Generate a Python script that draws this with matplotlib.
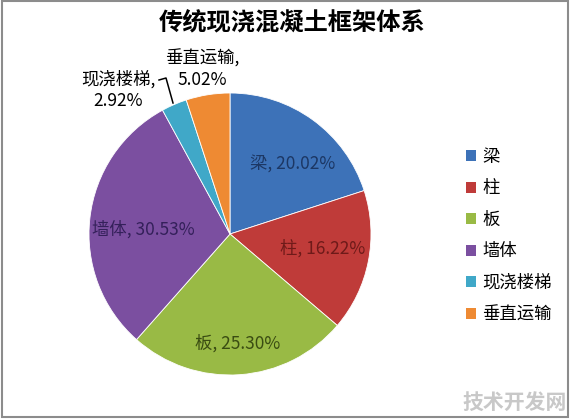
import matplotlib

matplotlib.use("Agg")
import matplotlib.pyplot as plt
from matplotlib.patches import Rectangle, Patch

plt.rcParams["font.family"] = ["Noto Sans CJK SC", "DejaVu Sans"]

# data
categories = ["梁", "柱", "板", "墙体", "现浇楼梯", "垂直运输"]
shares = [20.02, 16.22, 25.30, 30.53, 2.92, 5.02]
colors = ["#3D72B8", "#BF3B39", "#99BA45", "#7B4FA0", "#40A8C8", "#EE8A33"]
label_colors = ["#1C3764", "#6E1A19", "#3A4C12", "#34205A", "#000000", "#000000"]
title = "传统现浇混凝土框架体系"

fig = plt.figure(figsize=(5.74, 4.20), dpi=100)

# pie axes: centre (230, 234) px, radius 141 px
cx, cy, r = 230, 234, 141
ax = fig.add_axes([(cx - r) / 574, (420 - cy - r) / 420, 2 * r / 574, 2 * r / 420])
wedges, _ = ax.pie(
    shares,
    colors=colors,
    startangle=90,
    counterclock=False,
    wedgeprops=dict(edgecolor="white", linewidth=0.6),
)
ax.set_xlim(-1, 1)
ax.set_ylim(-1, 1)
ax.set_aspect("equal")


def px(x, y):
    return (x - cx) / r, (cy - y) / r


# label positions (pixels in the reference)
label_pos = [(293, 165), (323, 248), (238, 343), (143, 229), (118, 90), (202, 69)]
for i, (name, val) in enumerate(zip(categories, shares)):
    if i < 4:
        txt = f"{name}, {val:.2f}%"
    else:
        txt = f"{name},\n{val:.2f}%"
    x, y = px(*label_pos[i])
    ax.text(x, y, txt, ha="center", va="center", fontsize=12.5,
            color=label_colors[i], linespacing=1.25, clip_on=False)

# leader line for the small slice
lx, ly = zip(px(159, 80), px(166, 78), px(173, 103))
ax.plot(lx, ly, color="black", lw=1.1, clip_on=False)

fig.text(292 / 574, 1 - 22 / 420, title, ha="center", va="center",
         fontsize=17.5, fontweight="bold")

handles = [Patch(facecolor=c, edgecolor="none") for c in colors]
fig.legend(
    handles,
    categories,
    loc="upper left",
    bbox_to_anchor=(450 / 574, 1 - 132 / 420),
    frameon=False,
    fontsize=12.5,
    handlelength=0.6,
    handleheight=0.6,
    handletextpad=0.35,
    labelspacing=0.78,
)

fig.add_artist(Rectangle((2 / 574, 3 / 420), 566 / 574, 416 / 420,
                         transform=fig.transFigure, fill=False,
                         edgecolor="#8C8C8C", linewidth=1.5))

fig.text(567 / 574, 1 - 402 / 420, "技术开发网", ha="right", va="center",
         fontsize=15, fontweight="bold", color="#C8C8C8")

fig.savefig("out.png", dpi=100)
